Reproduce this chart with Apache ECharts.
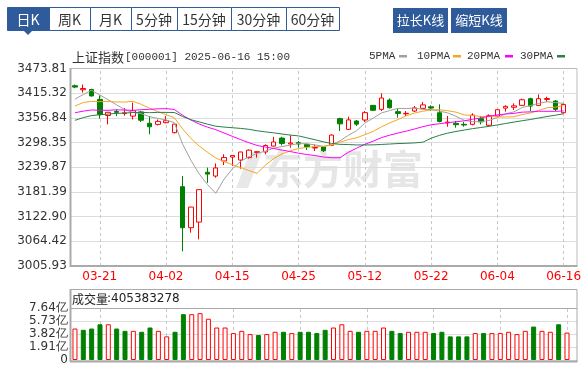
<!DOCTYPE html>
<html><head><meta charset="utf-8">
<script src="https://cdn.jsdelivr.net/npm/echarts@6/dist/echarts.min.js"></script>
<style>html,body{margin:0;padding:0;background:#fff;overflow:hidden}#c{width:584px;height:366px}</style>
</head><body><div id="c"></div><script>
// ---------------- data ----------------
const dates = ['03-18','03-19','03-20','03-21','03-24','03-25','03-26','03-27','03-28','03-31',
'04-01','04-02','04-03','04-07','04-08','04-09','04-10','04-11','04-14','04-15',
'04-16','04-17','04-18','04-21','04-22','04-23','04-24','04-25','04-28','04-29',
'04-30','05-06','05-07','05-08','05-09','05-12','05-13','05-14','05-15','05-16',
'05-19','05-20','05-21','05-22','05-23','05-26','05-27','05-28','05-29','05-30',
'06-03','06-04','06-05','06-06','06-09','06-10','06-11','06-12','06-13','06-16'];
const opens = [3433.0,3423.5,3424.0,3400.7,3362.5,3372.0,3367.0,3361.0,3371.0,3344.0,
3341.5,3345.5,3321.8,3193.9,3096.7,3110.0,3228.0,3219.0,3254.7,3264.0,
3257.0,3262.6,3275.0,3276.0,3290.0,3309.0,3295.0,3298.0,3294.0,3285.5,
3287.8,3291.8,3355.0,3329.7,3349.4,3351.8,3386.5,3377.0,3399.0,3371.5,
3366.5,3373.0,3379.4,3383.0,3369.0,3345.0,3343.9,3341.5,3341.5,3354.9,
3339.2,3361.3,3380.0,3382.0,3386.5,3402.3,3386.5,3400.5,3396.8,3369.0];
const closes = [3429.76,3426.43,3408.95,3364.83,3370.03,3369.98,3368.70,3373.75,3351.31,3335.75,
3348.44,3350.13,3342.01,3096.58,3145.55,3186.81,3223.64,3238.23,3262.81,3267.66,
3276.00,3280.34,3276.73,3291.43,3299.76,3296.36,3297.29,3295.06,3288.41,3286.65,
3279.03,3316.11,3342.67,3352.00,3342.00,3369.24,3374.87,3403.95,3380.82,3367.46,
3367.58,3380.48,3387.57,3380.19,3348.37,3346.84,3340.69,3339.93,3363.45,3347.49,
3361.98,3376.20,3384.10,3385.36,3399.77,3384.82,3402.32,3402.66,3377.00,3388.73];
const lows = [3427.0,3416.5,3407.0,3355.0,3341.5,3361.0,3362.0,3353.0,3347.0,3318.0,
3339.0,3344.0,3320.0,3040.69,3084.9,3069.0,3203.0,3215.0,3245.2,3243.0,
3236.5,3260.2,3262.6,3270.5,3289.0,3291.8,3286.0,3286.0,3280.7,3278.3,
3276.0,3290.0,3325.7,3328.1,3337.6,3347.0,3373.0,3373.0,3379.0,3357.3,
3361.3,3370.7,3378.6,3373.0,3346.0,3336.0,3333.6,3336.0,3339.2,3341.5,
3337.6,3359.7,3371.5,3375.5,3385.0,3373.0,3385.0,3394.4,3373.0,3367.6];
const highs = [3436.0,3436.0,3426.0,3410.0,3371.0,3377.0,3380.0,3393.0,3373.0,3361.0,
3353.0,3361.0,3342.5,3219.0,3146.0,3187.0,3239.0,3249.0,3270.5,3268.5,
3276.5,3282.0,3278.0,3294.0,3312.0,3312.0,3315.5,3302.0,3296.0,3294.0,
3290.0,3317.8,3357.3,3359.7,3351.8,3373.0,3387.0,3415.0,3403.0,3378.6,
3373.0,3385.0,3394.4,3386.5,3389.0,3361.3,3349.4,3347.0,3367.6,3361.3,
3365.2,3377.0,3386.5,3391.3,3402.3,3404.7,3412.6,3407.0,3399.0,3390.5];
const ma5 = [3401.2,3412.1,3422.2,3411.2,3400.0,3388.0,3376.5,3369.5,3366.8,3359.9,
3355.6,3351.9,3345.5,3294.6,3256.5,3224.2,3198.9,3178.2,3211.4,3235.8,
3253.7,3265.0,3272.7,3278.4,3284.9,3288.9,3292.3,3296.0,3295.4,3292.8,
3289.3,3293.1,3302.6,3315.3,3326.4,3344.4,3356.2,3368.4,3374.2,3379.3,
3378.9,3380.1,3376.8,3376.7,3372.8,3368.7,3360.7,3351.2,3347.9,3347.7,
3350.7,3357.8,3366.6,3371.0,3381.5,3386.1,3391.3,3395.0,3393.3,3391.1];
const ma10 = [3384.8,3393.2,3396.0,3395.2,3395.6,3394.6,3394.3,3395.9,3389.0,3380.0,
3371.8,3364.2,3357.5,3330.7,3308.2,3289.9,3275.4,3261.9,3253.0,3246.2,
3239.0,3232.0,3225.5,3244.9,3260.4,3271.3,3278.7,3284.4,3286.9,3288.9,
3289.1,3292.7,3299.3,3305.4,3309.6,3316.9,3324.7,3335.5,3344.8,3352.9,
3361.7,3368.2,3372.6,3375.5,3376.1,3373.8,3370.4,3364.0,3362.3,3360.3,
3359.7,3359.3,3358.9,3359.5,3364.6,3368.4,3374.6,3380.8,3382.2,3386.3];
const ma20 = [3369.0,3372.7,3375.6,3374.9,3374.7,3375.9,3375.4,3374.7,3376.2,3377.1,
3378.3,3378.7,3376.8,3363.0,3351.9,3342.3,3334.9,3328.9,3321.0,3313.1,
3305.4,3298.1,3291.5,3287.8,3284.3,3280.6,3277.1,3273.2,3270.0,3267.6,
3264.1,3262.4,3262.4,3275.2,3285.0,3294.1,3301.7,3310.0,3315.9,3320.9,
3325.4,3330.5,3336.0,3340.5,3342.9,3345.4,3347.6,3349.8,3353.6,3356.6,
3360.7,3363.8,3365.8,3367.5,3370.4,3371.1,3372.5,3372.4,3372.3,3373.3];
const ma30 = [3351.0,3357.5,3362.2,3364.2,3365.8,3367.5,3368.2,3369.6,3369.8,3369.1,
3369.9,3369.8,3369.6,3360.1,3352.5,3347.2,3342.0,3337.1,3335.1,3333.5,
3331.9,3329.8,3326.3,3323.6,3321.4,3318.6,3316.1,3314.1,3309.6,3305.0,
3300.0,3296.3,3294.1,3293.7,3292.7,3292.7,3292.9,3293.9,3294.9,3296.0,
3296.6,3297.6,3299.1,3308.6,3315.4,3320.7,3324.6,3328.0,3331.3,3334.0,
3336.8,3340.1,3343.6,3346.8,3350.1,3353.0,3356.6,3360.1,3363.1,3366.5];
// volume in 亿
const volumes = [4.65,4.46,4.65,5.28,5.28,4.65,4.31,4.31,4.17,4.80,
4.31,3.49,4.17,6.77,6.77,6.92,6.10,4.80,4.80,3.98,
4.31,3.83,3.69,3.83,4.17,4.17,3.98,4.17,4.17,3.98,
4.46,4.80,5.28,4.31,4.17,4.31,4.31,4.80,4.31,3.98,
4.17,4.17,4.17,3.98,4.17,3.49,3.49,3.49,3.98,3.98,
3.98,3.98,4.17,3.83,4.31,4.94,4.31,4.17,5.28,4.05];
const prevClose = 3426.13;
const xTickLabels = ['03-21','04-02','04-15','04-25','05-12','05-22','06-04','06-16'];
const yTickLabels = ['3005.93','3064.42','3122.90','3181.39','3239.87','3298.35','3356.84','3415.32','3473.81'];
const volTickLabels = ['0','1.91亿','3.82亿','5.73亿','7.64亿'];
const tabLabels = ['日K','周K','月K','5分钟','15分钟','30分钟','60分钟'];
const buttonLabels = ['拉长K线','缩短K线'];
const legendLabels = ['5PMA','10PMA','20PMA','30PMA'];
const titleName = '上证指数';
const titleInfo = '[000001] 2025-06-16 15:00';
const volTitle = '成交量';
const volLast = ':405383278';
const watermark = '东方财富';

// ---------------- layout / style ----------------
const yMin = 3005.93, yMax = 3473.81, yStep = (yMax - yMin) / 8;
const vMax = 7.64, vStep = 1.91;
const RED = '#ff0000', GREEN = '#008000', BLUE = '#2f5b9b';
const maColors = ['#a0a0a0', '#f5a623', '#ff00ff', '#2a7f4a'];
const cats = dates.concat(['']);
const candleData = dates.map((d, i) => [opens[i], closes[i], lows[i], highs[i]]);
const volData = volumes.map((v, i) => {
  const up = closes[i] >= (i ? closes[i - 1] : prevClose);
  return { value: v, itemStyle: up ? { color: '#ffffff', borderColor: RED, borderWidth: 1 } : { color: GREEN, borderColor: GREEN, borderWidth: 1 } };
});
const vMark = () => ({ symbol: 'none', silent: true, animation: false, label: { show: false }, z: 1,
  emphasis: { disabled: true }, lineStyle: { type: [3, 3], color: '#c8c8c8', width: 1 },
  data: xTickLabels.map(t => ({ xAxis: t })) });

const G = [];
const Z = 100;
// tabs
const tabEdges = [7, 49, 90, 131, 177, 231, 286, 339];
tabLabels.forEach((t, k) => {
  const x0 = tabEdges[k], x1 = tabEdges[k + 1];
  G.push({ type: 'rect', z: Z, shape: { x: x0 + 0.5, y: 7.5, width: x1 - x0, height: 23 },
    style: { fill: k === 0 ? BLUE : '#fff', stroke: BLUE, lineWidth: 1 } });
  G.push({ type: 'text', z: Z + 1, x: (x0 + x1) / 2, y: 19.5,
    style: { text: t, fill: k === 0 ? '#fff' : '#333', font: '14px "Noto Sans CJK SC"', align: 'center', verticalAlign: 'middle', textAlign: 'center', textVerticalAlign: 'middle' } });
});
G.push({ type: 'polygon', z: Z, shape: { points: [[24, 31], [32, 31], [28, 35]] }, style: { fill: BLUE } });
const btnEdges = [[393, 448], [451, 507]];
buttonLabels.forEach((t, k) => {
  const [x0, x1] = btnEdges[k];
  G.push({ type: 'rect', z: Z, shape: { x: x0, y: 8, width: x1 - x0, height: 25 }, style: { fill: BLUE } });
  G.push({ type: 'text', z: Z + 1, x: (x0 + x1) / 2, y: 20.5,
    style: { text: t, fill: '#fff', font: '13px "Noto Sans CJK SC"', align: 'center', verticalAlign: 'middle', textAlign: 'center', textVerticalAlign: 'middle' } });
});
// title
G.push({ type: 'text', z: Z, x: 72, y: 57, style: { text: titleName, fill: '#333', font: '13px "Noto Sans CJK SC"', verticalAlign: 'middle', textVerticalAlign: 'middle' } });
G.push({ type: 'text', z: Z, x: 125, y: 57, style: { text: titleInfo, fill: '#333', font: '11px "Liberation Mono"', verticalAlign: 'middle', textVerticalAlign: 'middle' } });
// legend
const legX = [[369, 399], [417, 453], [467, 505], [520, 557]];
legendLabels.forEach((t, k) => {
  G.push({ type: 'text', z: Z, x: legX[k][0], y: 56, style: { text: t, fill: '#333', font: '11px "Liberation Mono"', verticalAlign: 'middle', textVerticalAlign: 'middle' } });
  G.push({ type: 'rect', z: Z, shape: { x: legX[k][1], y: 55, width: 8, height: 2.5 }, style: { fill: maColors[k] } });
});
// watermark
G.push({ type: 'polygon', z: 0, shape: { points: [[236, 188], [250, 152], [262, 152], [248, 188]] }, style: { fill: '#e8e8e8' } });
G.push({ type: 'text', z: 0, x: 263, y: 169, style: { text: watermark, fill: '#e6e6e6', font: 'bold 40px "Noto Sans CJK SC"', verticalAlign: 'middle', textVerticalAlign: 'middle' } });
// covers beyond right border
G.push({ type: 'rect', z: Z - 1, shape: { x: 577.5, y: 60, width: 8, height: 208 }, style: { fill: '#fff' } });
G.push({ type: 'rect', z: Z - 1, shape: { x: 577.5, y: 287, width: 8, height: 78 }, style: { fill: '#fff' } });
// frames
G.push({ type: 'rect', z: Z, shape: { x: 70.5, y: 68.5, width: 506.5, height: 197.5 }, style: { fill: null, stroke: '#bbb', lineWidth: 1 } });
G.push({ type: 'line', z: Z, shape: { x1: 70.5, y1: 68, x2: 70.5, y2: 267 }, style: { stroke: '#aaa', lineWidth: 2 } });
G.push({ type: 'line', z: Z, shape: { x1: 70, y1: 266, x2: 577.5, y2: 266 }, style: { stroke: '#aaa', lineWidth: 2 } });
G.push({ type: 'rect', z: Z, shape: { x: 70.5, y: 289.5, width: 506.5, height: 72 }, style: { fill: null, stroke: '#aaa', lineWidth: 1 } });
G.push({ type: 'line', z: Z, shape: { x1: 70.5, y1: 308.5, x2: 577, y2: 308.5 }, style: { stroke: '#aaa', lineWidth: 1 } });
G.push({ type: 'line', z: Z, shape: { x1: 70.5, y1: 289, x2: 70.5, y2: 362 }, style: { stroke: '#aaa', lineWidth: 2 } });
G.push({ type: 'line', z: Z, shape: { x1: 70, y1: 361.5, x2: 577.5, y2: 361.5 }, style: { stroke: '#aaa', lineWidth: 2 } });
// volume header
G.push({ type: 'text', z: Z, x: 72, y: 299, style: { text: volTitle, fill: '#222', font: '12px "Noto Sans CJK SC"', verticalAlign: 'middle', textVerticalAlign: 'middle' } });
G.push({ type: 'text', z: Z, x: 107, y: 299, style: { text: volLast, fill: '#222', font: '12px "DejaVu Sans"', verticalAlign: 'middle', textVerticalAlign: 'middle' } });

const showLabel = (idx, val) => xTickLabels.indexOf(val) >= 0;
const option = {
  animation: false,
  backgroundColor: '#fff',
  graphic: G,
  grid: [
    { left: 70.8, top: 68.5, width: 508.7, height: 197.5 },
    { left: 70.8, top: 308.3, width: 508.7, height: 53.2 }
  ],
  xAxis: [
    { type: 'category', gridIndex: 0, data: cats, boundaryGap: true,
      axisLine: { show: false }, axisTick: { show: false }, splitLine: { show: false },
      axisLabel: { interval: showLabel, color: RED, fontFamily: 'DejaVu Sans', fontSize: 12, margin: 5 } },
    { type: 'category', gridIndex: 1, data: cats, boundaryGap: true,
      axisLine: { show: false }, axisTick: { show: false }, splitLine: { show: false }, axisLabel: { show: false } }
  ],
  yAxis: [
    { type: 'value', gridIndex: 0, min: yMin, max: yMax, interval: yStep, scale: true,
      axisLine: { show: false }, axisTick: { show: false },
      splitLine: { lineStyle: { color: '#dcdcdc', width: 1 } },
      axisLabel: { color: '#333', fontFamily: 'DejaVu Sans', fontSize: 12, margin: 4,
        formatter: v => yTickLabels[Math.round((v - yMin) / yStep)] } },
    { type: 'value', gridIndex: 1, min: 0, max: vMax, interval: vStep,
      axisLine: { show: false }, axisTick: { show: false },
      splitLine: { lineStyle: { color: '#dcdcdc', width: 1 } },
      axisLabel: { color: '#333', fontFamily: 'DejaVu Sans', fontSize: 12, margin: 3, padding: [0, 0, 6, 0],
        formatter: v => volTickLabels[Math.round(v / vStep)] } }
  ],
  series: [
    { type: 'line', xAxisIndex: 0, yAxisIndex: 0, data: [], z: 1, markLine: vMark() },
    { type: 'candlestick', xAxisIndex: 0, yAxisIndex: 0, data: candleData, barWidth: 5, z: 3,
      itemStyle: { color: '#ffffff', color0: GREEN, borderColor: RED, borderColor0: GREEN, borderWidth: 1 } },
    ...[ma5, ma10, ma20, ma30].map((d, k) => ({ type: 'line', xAxisIndex: 0, yAxisIndex: 0, data: d, z: 4,
      symbol: 'none', showSymbol: false, lineStyle: { color: maColors[k], width: 1 }, silent: true })),
    { type: 'line', xAxisIndex: 1, yAxisIndex: 1, data: [], z: 1, markLine: vMark() },
    { type: 'bar', xAxisIndex: 1, yAxisIndex: 1, data: volData, barWidth: 5, z: 3 }
  ]
};
const chart = echarts.init(document.getElementById('c'), null, { renderer: 'canvas' });
chart.setOption(option);
</script></body></html>
